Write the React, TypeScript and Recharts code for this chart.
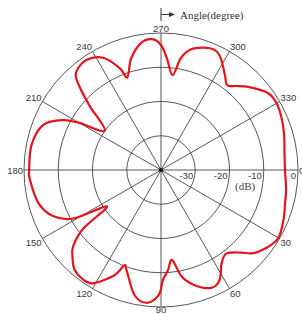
import { PolarAngleAxis, PolarGrid, PolarRadiusAxis, Radar, RadarChart } from "recharts";

// measured pattern, angle in degrees (clockwise from 0 at right), gain in dB
const angles = [
	0, 9, 15, 22, 30, 36, 42, 46, 52, 57, 62, 67, 74, 79, 83, 86, 89, 91, 96, 102, 109, 111, 114, 121, 126,
	131, 135, 139, 143, 146, 151, 157, 165, 176, 180, 191, 201, 207, 210, 215, 222, 226, 229, 236, 243, 248,
	250, 255, 261, 266, 270, 273, 277, 280, 284, 289, 294, 298, 304, 308, 312, 316, 324, 330, 337, 344, 351,
];
const gainDb = [
	-3.8, -3.0, -2.5, -1.4, -0.4, -1.6, -3.7, -6.5, -9.0, -7.5, -3.6, -2.6, -5.1, -8.3, -13.5, -10.7, -7.9,
	-3.5, -1.0, -2.7, -9.1, -10.2, -6.3, -1.4, -0.8, -1.5, -3.5, -6.0, -11.6, -21.0, -10.8, -5.7, -2.9, -1.6,
	-1.5, -1.5, -3.2, -7.9, -12.5, -20.0, -11.9, -5.4, -2.2, -1.2, -3.3, -8.0, -11.2, -6.3, -2.5, -1.7, -3.5,
	-7.3, -12.1, -6.9, -3.7, -2.2, -1.6, -2.9, -6.6, -8.6, -7.0, -5.0, -1.6, -1.0, -1.7, -2.6, -3.5,
];
const angleTicks = [0, 30, 60, 90, 120, 150, 180, 210, 240, 270, 300, 330];
const dbTicks = [-40, -30, -20, -10, 0];

const data = angles.map((a, i) => ({ angle: a, db: gainDb[i] }));

const W = 302;
const H = 314;
const CX = 161;
const CY = 170;
const R = 137;

const LABEL_FONT = "'Liberation Sans', Arial, sans-serif";
const SERIF = "'Liberation Serif', 'Times New Roman', serif";

function AngleTick(props: any) {
	const { x, y, textAnchor, payload } = props;
	const v = payload.value % 360;
	let dy = 0;
	if (v > 180) dy = -3.5;
	else if (v > 0 && v < 180) dy = v === 90 ? 1.5 : 3.5;
	return (
		<text
			x={x}
			y={y + dy}
			textAnchor={textAnchor}
			dominantBaseline="central"
			fontSize={9.5}
			fontFamily={LABEL_FONT}
			fill="#3a3a3a"
		>
			{v}
		</text>
	);
}

function DbTick(props: any) {
	const { x, y, payload } = props;
	if (payload.value === -40) return <g />;
	return (
		<text
			x={x - 2}
			y={y + 5}
			textAnchor="end"
			dominantBaseline="central"
			fontSize={9.5}
			fontFamily={LABEL_FONT}
			fill="#3a3a3a"
		>
			{payload.value}
		</text>
	);
}

// closed Catmull-Rom through the points the Radar computed
function SmoothPattern(props: any) {
	const pts: { x: number; y: number }[] = props.points || [];
	const n = pts.length;
	if (n < 3) return null;
	const p = (i: number) => pts[(i + n) % n];
	let d = `M${p(0).x},${p(0).y}`;
	for (let i = 0; i < n; i++) {
		const p0 = p(i - 1);
		const p1 = p(i);
		const p2 = p(i + 1);
		const p3 = p(i + 2);
		const c1x = p1.x + (p2.x - p0.x) / 6;
		const c1y = p1.y + (p2.y - p0.y) / 6;
		const c2x = p2.x - (p3.x - p1.x) / 6;
		const c2y = p2.y - (p3.y - p1.y) / 6;
		d += ` C${c1x},${c1y} ${c2x},${c2y} ${p2.x},${p2.y}`;
	}
	return <path d={d} fill="none" stroke="#e3141b" strokeWidth={2.2} strokeLinejoin="round" />;
}

export default function App() {
	return (
		<div style={{ position: "relative", width: W, height: H, background: "#fff" }}>
			<style>{`body{margin:0}`}</style>
			<RadarChart
				width={W}
				height={H}
				data={data}
				cx={CX}
				cy={CY}
				outerRadius={R}
				startAngle={0}
				endAngle={-360}
				margin={{ top: 0, right: 0, bottom: 0, left: 0 }}
			>
				<PolarGrid gridType="circle" stroke="#444" strokeWidth={0.9} />
				<PolarAngleAxis
					dataKey="angle"
					type="number"
					domain={[0, 360]}
					ticks={angleTicks as any}
					tickCount={13}
					tickSize={1}
					tickLine={false}
					axisLine={false}
					tick={AngleTick}
				/>
				<PolarRadiusAxis
					angle={0}
					type="number"
					domain={[-40, 0]}
					ticks={dbTicks as any}
					tickCount={5}
					axisLine={false}
					tickLine={false}
					tick={DbTick}
				/>
				<Radar
					dataKey="db"
					stroke="#e3141b"
					strokeWidth={2.2}
					fill="none"
					fillOpacity={0}
					dot={false}
					shape={SmoothPattern}
					isAnimationActive={false}
				/>
			</RadarChart>
			<svg
				width={W}
				height={H}
				style={{ position: "absolute", left: 0, top: 0, pointerEvents: "none" }}
			>
				<line x1={CX} y1={8} x2={CX} y2={21} stroke="#333" strokeWidth={1} />
				<line x1={CX} y1={14.5} x2={170} y2={14.5} stroke="#333" strokeWidth={1} />
				<path d="M169,12 L175,14.5 L169,17 Z" fill="#333" />
				<text x={180} y={19} fontSize={11} fontFamily={SERIF} fill="#333">
					Angle(degree)
				</text>
				<text x={235} y={190} fontSize={11} fontFamily={SERIF} fill="#444">
					(dB)
				</text>
				<circle cx={CX} cy={CY} r={2} fill="#111" />
			</svg>
		</div>
	);
}
